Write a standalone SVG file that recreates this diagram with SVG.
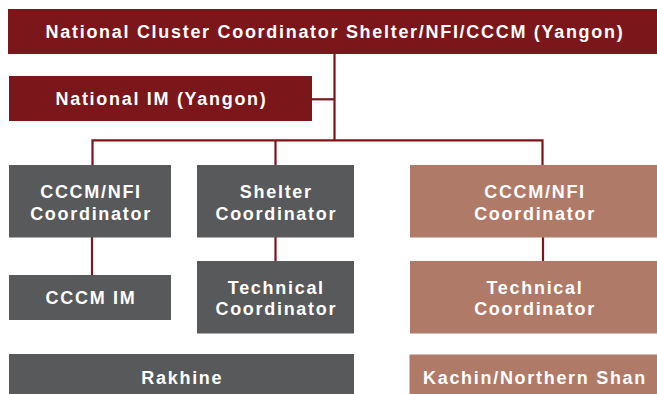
<svg xmlns="http://www.w3.org/2000/svg" width="657" height="394" viewBox="0 0 657 394">
<style>
.red{fill:#7b161a}
.gray{fill:#58595b}
.tan{fill:#b07a69}
text{font-family:"Liberation Sans",Arial,sans-serif;font-weight:bold;font-size:18px;fill:#ffffff;text-anchor:middle;letter-spacing:1.7px}
.conn{stroke:#7b161a;stroke-width:2.2;fill:none}
</style>
<rect width="657" height="394" fill="#ffffff"/>
<g id="connectors">
<path class="conn" d="M334.5 53 V140.3"/>
<path class="conn" d="M312 99.3 H334.5"/>
<path class="conn" d="M92.5 165 V140.3 H542.5 V165"/>
<path class="conn" d="M275.5 140.3 V165"/>
<path class="conn" d="M92 237 V275"/>
<path class="conn" d="M275.5 237 V261"/>
<path class="conn" d="M543 237 V261"/>
</g>
<g id="national-cluster">
<rect class="red" x="8" y="9" width="649" height="45"/>
<text x="335" y="38">National Cluster Coordinator Shelter/NFI/CCCM (Yangon)</text>
</g>
<g id="national-im">
<rect class="red" x="9" y="76" width="303" height="45"/>
<text x="161.5" y="105">National IM (Yangon)</text>
</g>
<g id="rakhine-cccm-nfi">
<rect class="gray" x="9" y="165" width="162" height="72.5"/>
<text x="91" y="197.5">CCCM/NFI</text>
<text x="91" y="219.5">Coordinator</text>
</g>
<g id="rakhine-shelter">
<rect class="gray" x="197" y="165" width="157" height="72.5"/>
<text x="276.3" y="197.5">Shelter</text>
<text x="276.3" y="219.5">Coordinator</text>
</g>
<g id="rakhine-cccm-im">
<rect class="gray" x="9" y="275" width="162" height="45"/>
<text x="91" y="304">CCCM IM</text>
</g>
<g id="rakhine-technical">
<rect class="gray" x="197" y="261" width="157" height="72.5"/>
<text x="276.3" y="293.5">Technical</text>
<text x="276.3" y="315">Coordinator</text>
</g>
<g id="rakhine">
<rect class="gray" x="9" y="354" width="345" height="40"/>
<text x="182.3" y="384">Rakhine</text>
</g>
<g id="kachin-cccm-nfi">
<rect class="tan" x="410" y="165" width="247" height="72.5"/>
<text x="535" y="197.5">CCCM/NFI</text>
<text x="535" y="219.5">Coordinator</text>
</g>
<g id="kachin-technical">
<rect class="tan" x="410" y="261" width="247" height="72.5"/>
<text x="535" y="293.5">Technical</text>
<text x="535" y="315">Coordinator</text>
</g>
<g id="kachin">
<rect class="tan" x="409.5" y="354.5" width="247.5" height="39.5"/>
<text x="535" y="384">Kachin/Northern Shan</text>
</g>
</svg>
